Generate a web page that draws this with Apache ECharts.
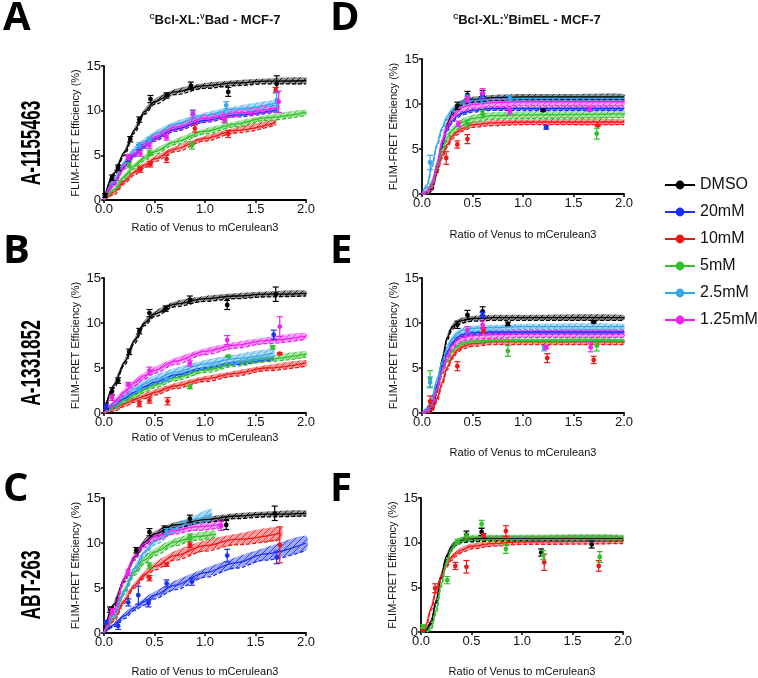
<!DOCTYPE html>
<html><head><meta charset="utf-8">
<script src="https://cdn.jsdelivr.net/npm/echarts@6/dist/echarts.min.js"></script>
<style>html,body{margin:0;padding:0;background:#fff}#c{width:758px;height:678px}</style>
</head><body><div id="c"></div>
<script>
// ---------- labels ----------
const legendNames = ['DMSO','20mM','10mM','5mM','2.5mM','1.25mM'];
const colors = ['#000000','#1a2ff0','#f01818','#33c02a','#36a6ea','#f020f0'];
const xTicks = [0, 0.5, 1.0, 1.5, 2.0];
const yTicks = [0, 5, 10, 15];
const xTitle = 'Ratio of Venus to mCerulean3';
const yTitle = 'FLIM-FRET Efficiency (%)';
const rowLabels = ['A-1155463','A-1331852','ABT-263'];
const panelLetters = ['A','B','C','D','E','F'];

// ---------- fits: [x, upper, lower] ----------
const fitA_DMSO=[[0,0,0],[0.1,3.3,2.7],[0.2,5.6,5.0],[0.3,8.1,7.5],[0.4,10.2,9.6],[0.5,11.3,10.7],[0.7,12.4,11.8],[1.0,13.1,12.5],[1.3,13.4,12.8],[1.6,13.6,13.0],[2.0,13.7,13.0]];
const fitA_20=[[0,0,0],[0.1,2.1,1.7],[0.2,3.9,3.5],[0.3,5.2,4.8],[0.4,6.2,5.8],[0.5,7.0,6.6],[0.7,8.1,7.7],[1.0,9.1,8.7],[1.3,9.7,9.3],[1.72,10.3,9.9]];
const fitA_10=[[0,0,0],[0.1,1.2,0.6],[0.2,2.4,1.8],[0.3,3.4,2.8],[0.4,4.2,3.6],[0.5,4.9,4.3],[0.7,6.0,5.4],[1.0,7.2,6.6],[1.3,8.1,7.5],[1.7,9.0,8.4]];
const fitA_5=[[0,0,0],[0.1,1.5,0.9],[0.2,2.9,2.3],[0.3,4.1,3.5],[0.4,5.0,4.4],[0.5,5.7,5.1],[0.7,6.8,6.2],[1.0,8.0,7.4],[1.3,8.8,8.2],[1.6,9.5,8.9],[2.0,10.1,9.5]];
const fitA_25=[[0,0,0],[0.1,2.5,1.9],[0.2,4.5,3.9],[0.3,5.9,5.3],[0.4,6.9,6.3],[0.5,7.7,7.1],[0.7,8.8,8.2],[1.0,9.8,9.2],[1.3,10.5,9.9],[1.72,11.2,10.6]];
const fitA_125=[[0,0,0],[0.1,2.3,1.6],[0.2,4.2,3.5],[0.3,5.6,4.9],[0.4,6.6,5.9],[0.5,7.4,6.7],[0.7,8.5,7.8],[1.0,9.5,8.8],[1.3,10.1,9.4],[1.72,10.7,10.0]];

const fitB_DMSO=[[0,0,0],[0.1,3.4,2.8],[0.2,5.9,5.3],[0.3,8.3,7.7],[0.4,10.3,9.7],[0.5,11.3,10.7],[0.7,12.4,11.8],[1.0,13.0,12.4],[1.3,13.3,12.7],[1.6,13.5,12.9],[2.0,13.6,13.0]];
const fitB_20=[[0,0,0],[0.1,1.0,0.6],[0.2,1.8,1.4],[0.3,2.5,2.1],[0.4,3.1,2.7],[0.5,3.6,3.2],[0.7,4.4,4.0],[1.0,5.2,4.8],[1.3,5.8,5.4],[1.68,6.3,5.9]];
const fitB_10=[[0,0,0],[0.1,0.8,0.2],[0.2,1.3,0.7],[0.3,1.8,1.2],[0.4,2.2,1.6],[0.5,2.6,2.0],[0.7,3.3,2.7],[1.0,4.1,3.5],[1.3,4.7,4.1],[1.6,5.3,4.7],[2.0,5.9,5.2]];
const fitB_5=[[0,0,0],[0.1,1.0,0.4],[0.2,1.7,1.1],[0.3,2.3,1.7],[0.4,2.9,2.3],[0.5,3.4,2.8],[0.7,4.2,3.6],[1.0,5.1,4.5],[1.3,5.8,5.2],[1.6,6.3,5.7],[2.0,6.9,6.2]];
const fitB_25=[[0,0,0],[0.1,1.4,0.5],[0.2,2.3,1.4],[0.3,3.1,2.2],[0.4,3.7,2.8],[0.5,4.2,3.3],[0.7,5.0,4.1],[1.0,5.9,5.0],[1.3,6.5,5.6],[1.68,7.1,6.2]];
const fitB_125=[[0,0,0],[0.1,1.5,0.8],[0.2,2.7,2.0],[0.3,3.7,3.0],[0.4,4.5,3.8],[0.5,5.1,4.4],[0.7,6.1,5.4],[1.0,7.2,6.5],[1.3,7.9,7.2],[1.6,8.4,7.7],[2.0,8.9,8.2]];

const fitC_DMSO=[[0,0,0],[0.1,3.5,2.9],[0.2,6.3,5.7],[0.3,8.7,8.1],[0.4,10.4,9.8],[0.5,11.3,10.7],[0.7,12.3,11.7],[1.0,12.9,12.3],[1.3,13.3,12.7],[1.6,13.5,12.9],[2.0,13.6,13.0]];
const fitC_20=[[0,0,0],[0.1,1.1,0.7],[0.2,2.2,1.6],[0.3,3.1,2.5],[0.4,3.9,3.1],[0.5,4.6,3.8],[0.7,5.8,4.8],[1.0,7.2,6.2],[1.3,8.4,7.2],[1.6,9.5,8.1],[2.0,10.8,9.2]];
const fitC_10=[[0,0,0],[0.1,1.9,1.3],[0.2,3.9,3.3],[0.3,5.6,5.0],[0.4,6.9,6.1],[0.5,7.8,7.0],[0.7,9.1,8.1],[1.0,10.3,9.1],[1.3,11.0,9.8],[1.75,11.8,10.4]];
const fitC_5=[[0,0,0],[0.1,2.4,1.6],[0.2,5.1,4.3],[0.3,7.2,6.4],[0.4,8.5,7.7],[0.5,9.4,8.6],[0.7,10.5,9.7],[0.9,11.1,10.3],[1.1,11.4,10.6]];
const fitC_25=[[0,0,0],[0.1,2.3,1.7],[0.2,4.9,4.3],[0.3,7.5,6.8],[0.4,9.3,8.6],[0.5,10.6,9.8],[0.7,12.1,11.2],[0.9,13.1,12.1],[1.06,13.8,12.6]];
const fitC_125=[[0,0,0],[0.1,3.0,2.2],[0.2,6.4,5.6],[0.3,8.9,8.1],[0.4,10.3,9.5],[0.5,11.1,10.3],[0.7,11.8,11.0],[0.9,12.2,11.4],[1.17,12.5,11.7]];

const fitD_DMSO=[[0,0,0],[0.05,0.2,0],[0.1,0.9,0.3],[0.15,2.9,2.3],[0.2,5.8,5.2],[0.25,8.1,7.5],[0.3,9.4,8.8],[0.35,10.1,9.5],[0.4,10.5,9.9],[0.5,10.8,10.2],[0.7,11.0,10.4],[1.0,11.1,10.5],[1.5,11.1,10.5],[2.0,11.1,10.5]];
const fitD_20=[[0,0,0],[0.05,0.4,0],[0.1,1.3,0.9],[0.15,3.5,3.1],[0.2,5.8,5.4],[0.25,7.4,7.0],[0.3,8.3,7.9],[0.35,8.9,8.5],[0.4,9.2,8.8],[0.5,9.5,9.1],[0.7,9.7,9.3],[1.0,9.7,9.3],[2.0,9.7,9.3]];
const fitD_10=[[0,0,0],[0.05,0.4,0],[0.1,1.2,0.6],[0.15,2.9,2.3],[0.2,4.6,4.0],[0.25,5.8,5.2],[0.3,6.7,6.1],[0.35,7.2,6.6],[0.4,7.6,7.0],[0.5,8.0,7.4],[0.7,8.2,7.6],[1.0,8.3,7.7],[2.0,8.3,7.7]];
const fitD_5=[[0,0,0],[0.05,0.6,0],[0.1,1.7,0.9],[0.15,3.6,2.8],[0.2,5.4,4.6],[0.25,6.7,5.9],[0.3,7.5,6.7],[0.35,8.0,7.2],[0.4,8.4,7.6],[0.5,8.8,8.0],[0.7,9.1,8.3],[1.0,9.2,8.4],[2.0,9.3,8.5]];
const fitD_25=[[0,0,0],[0.05,1.3,0.7],[0.1,3.6,3.0],[0.15,5.9,5.3],[0.2,7.7,7.1],[0.25,8.9,8.3],[0.3,9.7,9.1],[0.35,10.2,9.6],[0.4,10.5,9.9],[0.5,10.7,10.1],[0.7,10.8,10.2],[1.0,10.9,10.3],[2.0,10.9,10.3]];
const fitD_125=[[0,0,0],[0.05,0.6,0],[0.1,1.6,0.7],[0.15,3.9,3.0],[0.2,6.4,5.5],[0.25,8.1,7.2],[0.3,9.1,8.2],[0.35,9.7,8.8],[0.4,10.1,9.2],[0.5,10.4,9.5],[0.7,10.6,9.7],[1.0,10.7,9.8],[2.0,10.7,9.8]];

const fitE_DMSO=[[0,0,0],[0.05,0.2,0],[0.1,0.8,0.2],[0.15,2.9,2.3],[0.2,6.3,5.7],[0.25,8.7,8.1],[0.3,9.9,9.3],[0.35,10.4,9.8],[0.4,10.6,10.0],[0.5,10.8,10.2],[0.7,10.9,10.3],[1.0,10.9,10.3],[2.0,10.9,10.3]];
const fitE_20=[[0,0,0],[0.05,0.5,0.1],[0.1,1.5,1.1],[0.15,3.4,3.0],[0.2,5.4,5.0],[0.25,7.0,6.6],[0.3,8.0,7.6],[0.35,8.6,8.2],[0.4,8.9,8.5],[0.5,9.1,8.7],[0.7,9.2,8.8],[1.0,9.2,8.8],[2.0,9.2,8.8]];
const fitE_10=[[0,0,0],[0.05,0.2,0],[0.1,0.7,0.1],[0.15,1.9,1.3],[0.2,3.7,3.1],[0.25,5.4,4.8],[0.3,6.6,6.0],[0.35,7.3,6.7],[0.4,7.7,7.1],[0.5,8.0,7.4],[0.7,8.2,7.6],[1.0,8.2,7.6],[2.0,8.2,7.6]];
const fitE_5=[[0,0,0],[0.05,0.4,0],[0.1,1.2,0.8],[0.15,2.8,2.4],[0.2,4.6,4.2],[0.25,6.1,5.7],[0.3,7.1,6.7],[0.35,7.7,7.3],[0.4,8.0,7.6],[0.5,8.2,7.8],[0.7,8.3,7.9],[1.0,8.3,7.9],[2.0,8.3,7.9]];
const fitE_25=[[0,0,0],[0.05,0.8,0.2],[0.1,2.1,1.5],[0.15,4.1,3.5],[0.2,6.1,5.5],[0.25,7.6,7.0],[0.3,8.6,8.0],[0.35,9.2,8.6],[0.4,9.5,8.9],[0.5,9.7,9.1],[0.7,9.8,9.2],[1.0,9.9,9.3],[2.0,9.9,9.3]];
const fitE_125=[[0,0,0],[0.05,0.6,0],[0.1,1.4,0.6],[0.15,3.2,2.4],[0.2,5.2,4.4],[0.25,6.8,6.0],[0.3,7.9,7.1],[0.35,8.5,7.7],[0.4,8.8,8.0],[0.5,9.0,8.2],[0.7,9.1,8.3],[1.0,9.2,8.4],[2.0,9.2,8.4]];

const fitF_DMSO=[[0,0,0],[0.05,0.4,0],[0.1,1.5,0.9],[0.15,3.8,3.2],[0.2,6.6,6.0],[0.25,8.7,8.1],[0.3,9.8,9.2],[0.35,10.3,9.7],[0.4,10.6,10.0],[0.5,10.7,10.1],[0.7,10.8,10.2],[1.0,10.8,10.2],[2.0,10.8,10.2]];
const fitF_10=[[0,0,0],[0.05,1.1,0.5],[0.1,3.0,2.4],[0.15,5.0,4.4],[0.2,6.6,6.0],[0.25,7.8,7.2],[0.3,8.6,8.0],[0.35,9.1,8.5],[0.4,9.5,8.9],[0.5,9.9,9.3],[0.7,10.2,9.6],[1.0,10.4,9.8],[2.0,10.5,9.9]];
const fitF_5=[[0,0,0],[0.05,0.2,0],[0.1,0.8,0.2],[0.15,2.7,2.1],[0.2,5.6,5.0],[0.25,8.1,7.5],[0.3,9.6,9.0],[0.35,10.3,9.7],[0.4,10.7,10.1],[0.5,10.9,10.3],[0.7,10.9,10.3],[1.0,10.9,10.3],[2.0,10.9,10.3]];

// ---------- points: [x, mean, sem] ----------
const ptsA_DMSO=[[0.01,0.5,0.2],[0.08,2.5,0.3],[0.14,3.6,0.3],[0.26,6.8,0.3],[0.35,9.0,0.3],[0.46,11.3,0.4],[0.62,11.7,0.3],[0.86,12.8,0.4],[1.23,12.1,0.5],[1.71,13.0,0.9]];
const ptsA_20=[[0.24,4.6,0.3],[0.35,5.9,0.3]];
const ptsA_10=[[0.36,3.4,0.3],[0.46,4.0,0.3],[0.62,4.6,0.4],[0.9,8.0,0.4],[1.23,7.4,0.4],[1.7,12.3,0.3]];
const ptsA_5=[[0.25,3.9,0.3],[0.45,5.3,0.3],[0.87,6.1,0.4],[1.2,8.9,0.3]];
const ptsA_25=[[0.35,6.1,0.3],[0.45,6.7,0.3],[0.88,9.8,0.3],[1.21,10.6,0.4],[1.71,11.2,0.8]];
const ptsA_125=[[0.24,4.8,0.3],[0.36,5.2,0.3],[0.45,6.1,0.3],[0.62,7.0,0.3],[0.88,9.6,0.4],[1.19,9.0,0.3],[1.73,11.0,1.2]];

const ptsB_DMSO=[[0.02,0.8,0.3],[0.08,2.4,0.4],[0.14,3.6,0.3],[0.25,6.8,0.3],[0.35,9.1,0.3],[0.45,11.1,0.4],[0.61,11.6,0.3],[0.85,12.6,0.4],[1.22,12.0,0.5],[1.7,13.2,0.8]];
const ptsB_20=[[0.02,0.7,0.3],[1.68,8.7,0.5]];
const ptsB_10=[[0.35,1.0,0.3],[0.45,1.4,0.3],[0.63,1.3,0.4],[1.74,6.6,0.1]];
const ptsB_5=[[0.85,2.9,0.2],[1.23,6.3,0.1],[1.67,7.3,0.2]];
const ptsB_25=[[0.35,2.6,0.2],[0.62,3.7,0.2]];
const ptsB_125=[[0.08,1.7,0.3],[0.24,3.2,0.2],[0.45,4.7,0.4],[0.85,5.5,0.3],[1.22,8.1,0.5],[1.74,9.6,1.1]];

const ptsC_DMSO=[[0.06,2.6,0.3],[0.32,9.2,0.3],[0.45,11.2,0.4],[0.6,11.6,0.3],[0.85,12.7,0.4],[1.21,12.0,0.5],[1.69,13.3,0.8]];
const ptsC_20=[[0.02,1.2,0.2],[0.14,0.8,0.4],[0.24,3.4,0.4],[0.34,4.2,1.0],[0.44,3.3,0.4],[0.62,5.5,0.4],[0.87,5.7,0.4],[1.22,8.6,0.7],[1.71,8.4,0.7]];
const ptsC_10=[[0.45,6.1,0.3],[0.62,7.6,0.2],[0.85,9.8,0.3],[1.74,9.8,2.0]];
const ptsC_5=[[0.45,7.5,0.3],[0.85,10.7,0.3]];
const ptsC_25=[[0.62,11.3,0.3]];
const ptsC_125=[[0.08,2.4,0.3],[0.24,6.7,0.3],[1.16,11.9,0.5]];

const ptsD_DMSO=[[0.35,9.8,0.4],[0.45,11.0,0.4],[0.6,11.1,0.4],[1.2,9.3,0.1]];
const ptsD_20=[[0.6,10.9,0.3],[1.23,7.4,0.2]];
const ptsD_10=[[0.24,4.0,0.7],[0.35,5.5,0.4],[0.45,6.1,0.5],[1.74,7.6,0.1]];
const ptsD_5=[[0.45,7.8,0.4],[0.6,8.9,0.4],[1.73,6.7,0.6]];
const ptsD_25=[[0.08,3.5,0.8],[0.45,10.7,0.3],[0.87,10.6,0.3]];
const ptsD_125=[[0.36,7.8,0.3],[0.45,10.5,0.3],[0.6,11.2,0.5],[0.87,9.2,0.3],[1.66,9.4,0.2]];

const ptsE_DMSO=[[0.35,9.8,0.4],[0.45,10.9,0.5],[0.6,11.3,0.5],[0.85,9.9,0.2],[1.7,10.1,0.1]];
const ptsE_20=[[0.6,10.9,0.3]];
const ptsE_10=[[0.08,1.3,0.6],[0.35,5.2,0.5],[0.61,9.2,0.3],[1.24,6.1,0.5],[1.7,5.9,0.4]];
const ptsE_5=[[0.08,3.8,0.9],[0.85,6.9,0.6],[1.73,7.5,0.6]];
const ptsE_25=[[0.08,3.4,0.6],[1.21,7.2,0.3]];
const ptsE_125=[[0.45,9.2,0.4],[0.6,9.8,0.4],[1.23,7.3,0.2],[1.67,7.3,0.5]];

const ptsF_DMSO=[[0.02,0.3,0.2],[0.45,10.9,0.4],[0.6,11.2,0.4],[1.19,8.9,0.4],[1.69,9.8,0.4]];
const ptsF_10=[[0.02,0.3,0.2],[0.14,4.9,0.5],[0.34,7.4,0.4],[0.45,7.3,0.7],[0.62,10.8,0.2],[0.84,11.3,0.6],[1.22,7.8,0.9],[1.76,7.4,0.6]];
const ptsF_5=[[0.02,0.6,0.2],[0.26,5.8,0.4],[0.36,10.1,0.3],[0.45,10.7,0.3],[0.6,12.1,0.4],[0.84,9.3,0.5],[1.21,8.6,0.5],[1.77,8.4,0.6]];

// ---------- assembly ----------
const panels = [
  [[0,fitA_DMSO,ptsA_DMSO],[1,fitA_20,ptsA_20],[2,fitA_10,ptsA_10],[3,fitA_5,ptsA_5],[4,fitA_25,ptsA_25],[5,fitA_125,ptsA_125]],
  [[0,fitB_DMSO,ptsB_DMSO],[1,fitB_20,ptsB_20],[2,fitB_10,ptsB_10],[3,fitB_5,ptsB_5],[4,fitB_25,ptsB_25],[5,fitB_125,ptsB_125]],
  [[0,fitC_DMSO,ptsC_DMSO],[1,fitC_20,ptsC_20],[2,fitC_10,ptsC_10],[3,fitC_5,ptsC_5],[4,fitC_25,ptsC_25],[5,fitC_125,ptsC_125]],
  [[0,fitD_DMSO,ptsD_DMSO],[1,fitD_20,ptsD_20],[2,fitD_10,ptsD_10],[3,fitD_5,ptsD_5],[4,fitD_25,ptsD_25],[5,fitD_125,ptsD_125]],
  [[0,fitE_DMSO,ptsE_DMSO],[1,fitE_20,ptsE_20],[2,fitE_10,ptsE_10],[3,fitE_5,ptsE_5],[4,fitE_25,ptsE_25],[5,fitE_125,ptsE_125]],
  [[0,fitF_DMSO,ptsF_DMSO],[2,fitF_10,ptsF_10],[3,fitF_5,ptsF_5]]
];

const FONT = 'Liberation Sans';
const grids = [
  {left:104, top:66, width:202, height:134},
  {left:104, top:278, width:202, height:135},
  {left:104, top:498, width:202, height:135},
  {left:422, top:59, width:202, height:135},
  {left:422, top:278, width:202, height:135},
  {left:421, top:498, width:202, height:135}
];
const xNameGap = [22, 19, 33, 35, 34, 34];

function hatch(color){
  const c = document.createElement('canvas'); c.width = 6; c.height = 6;
  const g = c.getContext('2d');
  g.globalAlpha = 0.42; g.fillStyle = color; g.fillRect(0,0,6,6);
  g.globalAlpha = 0.85; g.strokeStyle = color; g.lineWidth = 1;
  g.beginPath();
  g.moveTo(0,6); g.lineTo(6,0); g.moveTo(-3,3); g.lineTo(3,-3); g.moveTo(3,9); g.lineTo(9,3);
  g.stroke();
  return c;
}
const patternCanvases = colors.map(hatch);

function renderPoint(params, api){
  const col = api.visual('color');
  const x = api.value(0), y = api.value(1), e = api.value(2);
  const c = api.coord([x, y]);
  const t = api.coord([x, y + e]);
  const b = api.coord([x, Math.max(0, y - e)]);
  const st = {stroke: col, lineWidth: 1.2};
  return {type:'group', children:[
    {type:'line', shape:{x1:c[0], y1:t[1], x2:c[0], y2:b[1]}, style:st},
    {type:'line', shape:{x1:c[0]-3, y1:t[1], x2:c[0]+3, y2:t[1]}, style:st},
    {type:'line', shape:{x1:c[0]-3, y1:b[1], x2:c[0]+3, y2:b[1]}, style:st},
    {type:'circle', shape:{cx:c[0], cy:c[1], r:2.4}, style:{fill: col}}
  ]};
}

function bandRenderer(fit, ci){
  return function(params, api){
    if (params.dataIndex !== 0) return null;
    const up = fit.map(p => api.coord([p[0], p[1]]));
    const lo = fit.map(p => api.coord([p[0], p[2]])).reverse();
    return {type:'polygon', shape:{points: up.concat(lo), smooth: 0.25},
      style:{fill:{image: patternCanvases[ci], repeat:'repeat'}, stroke: null}};
  };
}

const series = [];
panels.forEach((groups, gi) => {
  groups.forEach(([ci, fit, pts]) => {
    const col = colors[ci];
    const sk = 'p' + gi + '_' + ci;
    const common = {type:'line', xAxisIndex:gi, yAxisIndex:gi, smooth:0.35, smoothMonotone:'x',
      symbol:'none', showSymbol:false, silent:true, animation:false, clip:true};
    series.push({type:'custom', name: sk + '_band', xAxisIndex:gi, yAxisIndex:gi,
      data: fit, encode:{x:0, y:[1,2]}, renderItem: bandRenderer(fit, ci), z:2, silent:true, animation:false});
    series.push(Object.assign({}, common, {name: sk + '_lo',
      data: fit.map(p => [p[0], p[2]]),
      lineStyle:{color: col, width: 1.3, type: [4, 2]}, z: 3}));
    series.push(Object.assign({}, common, {name: sk + '_fit',
      data: fit.map(p => [p[0], (p[1] + p[2]) / 2]),
      lineStyle:{color: col, width: 1.3}, z: 3}));
    series.push({type:'custom', name: sk + '_pts', xAxisIndex:gi, yAxisIndex:gi,
      data: pts, encode:{x:0, y:1}, itemStyle:{color: col}, renderItem: renderPoint,
      z: 4, silent:true, animation:false});
  });
});
// legend proxies
legendNames.forEach((n, i) => {
  series.push({type:'line', name:n, xAxisIndex:0, yAxisIndex:0, data:[], symbol:'circle', symbolSize:11,
    lineStyle:{color: colors[i], width: 3}, itemStyle:{color: colors[i]}});
});

const xAxes = grids.map((g, i) => ({
  type:'value', gridIndex:i, min:xTicks[0], max:xTicks[xTicks.length-1], interval:xTicks[1]-xTicks[0],
  name: xTitle, nameLocation:'middle', nameGap: xNameGap[i],
  nameTextStyle:{fontFamily:FONT, fontSize:11, color:'#111'},
  axisLine:{show:true, onZero:false, lineStyle:{color:'#000', width:1.8}},
  axisTick:{show:true, length:3, lineStyle:{color:'#000', width:1.5}},
  axisLabel:{fontFamily:FONT, fontSize:13, color:'#111', margin:3, formatter: v => v.toFixed(1)},
  splitLine:{show:false}
}));
const yAxes = grids.map((g, i) => ({
  type:'value', gridIndex:i, min:yTicks[0], max:yTicks[yTicks.length-1], interval:yTicks[1]-yTicks[0],
  name: yTitle, nameLocation:'middle', nameGap: 23, nameRotate: 90,
  nameTextStyle:{fontFamily:FONT, fontSize:11, color:'#111'},
  axisLine:{show:true, onZero:false, lineStyle:{color:'#000', width:1.8}},
  axisTick:{show:true, length:3, lineStyle:{color:'#000', width:1.5}},
  axisLabel:{fontFamily:FONT, fontSize:13, color:'#111', margin:3},
  splitLine:{show:false}
}));

const letterPos = [[3,19],[3,252],[3,490],[330,19],[330,252],[330,490]];
const graphics = [];
panelLetters.forEach((L, i) => {
  graphics.push({type:'text', x:letterPos[i][0], y:letterPos[i][1],
    style:{text:L, font:'bold 40px "Open Sans"', fill:'#000', align:'left', verticalAlign:'middle'}});
});
const rowPos = [[33,143],[33,363],[33,585]];
rowLabels.forEach((t, i) => {
  graphics.push({type:'text', x:rowPos[i][0], y:rowPos[i][1], rotation:Math.PI/2, scaleX:0.64,
    style:{text:t, font:'bold 27px "Liberation Sans"', fill:'#000', align:'center', verticalAlign:'middle'}});
});
const titleRich = {
  s:{fontSize:7, fontWeight:'bold', fontFamily:FONT, fill:'#111', verticalAlign:'top'},
  b:{fontSize:13, fontWeight:'bold', fontFamily:FONT, fill:'#111'}
};
graphics.push({type:'text', x:215, y:20, style:{text:'{s|C}{b|Bcl-XL:}{s|V}{b|Bad - MCF-7}', rich:titleRich, align:'center', verticalAlign:'middle'}});
graphics.push({type:'text', x:527, y:20, style:{text:'{s|C}{b|Bcl-XL:}{s|V}{b|BimEL - MCF-7}', rich:titleRich, align:'center', verticalAlign:'middle'}});

const chart = echarts.init(document.getElementById('c'), null, {renderer:'canvas'});
chart.setOption({
  animation:false,
  backgroundColor:'#fff',
  grid: grids,
  xAxis: xAxes,
  yAxis: yAxes,
  legend:{data: legendNames, orient:'vertical', left:659, top:172, itemWidth:30, itemHeight:11, itemGap:11,
    selectedMode:false, textStyle:{fontFamily:FONT, fontSize:16, color:'#111'}},
  graphic: graphics,
  series: series
});
</script></body></html>
